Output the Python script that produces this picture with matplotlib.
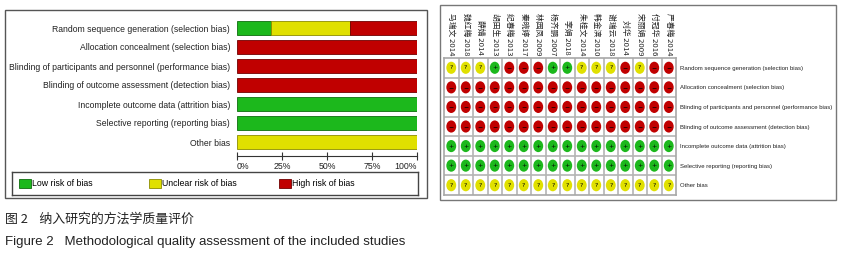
import matplotlib
matplotlib.use("Agg")
import matplotlib.pyplot as plt
from matplotlib import font_manager
from matplotlib.font_manager import FontProperties
from matplotlib.legend import Legend
from matplotlib.patches import Ellipse, Patch, Rectangle

# ---- data -------------------------------------------------------------
domains = [
    "Random sequence generation (selection bias)",
    "Allocation concealment (selection bias)",
    "Blinding of participants and personnel (performance bias)",
    "Blinding of outcome assessment (detection bias)",
    "Incomplete outcome data (attrition bias)",
    "Selective reporting (reporting bias)",
    "Other bias",
]
studies = [
    "马瑞文 2014", "魏红梅 2018", "薛婧 2014", "胡田生 2013",
    "纪春梅 2013", "秦晓婷 2017", "林园凤 2009", "杨齐鹏 2007",
    "李娟 2018", "朱桂文 2014", "韩金滨 2010", "谢瑞云 2018",
    "刘华 2014", "宋丽娟 2009", "付冠华 2016", "严春梅 2014",
]
# judgements per domain: L = low, U = unclear, H = high
judgements = [
    "UUULHHHLLUUUHUHH",
    "HHHHHHHHHHHHHHHH",
    "HHHHHHHHHHHHHHHH",
    "HHHHHHHHHHHHHHHH",
    "LLLLLLLLLLLLLLLL",
    "LLLLLLLLLLLLLLLL",
    "UUUUUUUUUUUUUUUU",
]
levels = ["L", "U", "H"]
level_labels = ["Low risk of bias", "Unclear risk of bias", "High risk of bias"]
tick_vals = [0, 0.25, 0.5, 0.75, 1.0]
tick_labels = ["0%", "25%", "50%", "75%", "100%"]

# ---- style ------------------------------------------------------------
COLORS = {"L": "#1CB81C", "U": "#E0E000", "H": "#C00000"}
EDGES = {"L": "#0E6E0E", "U": "#8C8C00", "H": "#700000"}
SYMBOLS = {"L": "+", "U": "?", "H": "−"}

SANS = "Liberation Sans"
CJK = ["Noto Sans CJK SC", "DejaVu Sans"]


def narrow_font(size):
    """Use Liberation Sans Narrow if installed, else shrink the regular face."""
    for f in font_manager.fontManager.ttflist:
        if f.name == "Liberation Sans Narrow" and f.weight in (400, "normal") \
                and f.style == "normal":
            return FontProperties(fname=f.fname, size=size * 0.95)
    return FontProperties(family=SANS, size=size * 0.79)


W, H = 842, 257
fig = plt.figure(figsize=(W / 100, H / 100), dpi=100)


def fx(x):
    return x / W


def fy(y):
    return 1 - y / H


def box(x0, y0, x1, y1, **kw):
    return fig.add_axes([fx(x0), fy(y1), (x1 - x0) / W, (y1 - y0) / H], **kw)


def frame(x0, y0, x1, y1, color):
    fig.add_artist(Rectangle((fx(x0), fy(y1)), (x1 - x0) / W, (y1 - y0) / H,
                             transform=fig.transFigure, fill=False,
                             ec=color, lw=1.0))


# ---- left panel: summary bars -------------------------------------------
frame(5, 10, 427, 198, "#555555")

ax1 = box(237, 18.5, 417, 151.5)
for s in ["top", "right", "left"]:
    ax1.spines[s].set_visible(False)
ax1.spines["bottom"].set_position(("outward", 3))
ax1.spines["bottom"].set_color("#333333")
ax1.patch.set_alpha(0)

n = len(studies)
for i, row in enumerate(judgements):
    left = 0.0
    for lv in levels:
        frac = row.count(lv) / n
        if frac > 0:
            ax1.barh(i, frac, left=left, height=0.76, color=COLORS[lv],
                     edgecolor=EDGES[lv], linewidth=0.6)
        left += frac
ax1.set_xlim(0, 1)
ax1.set_ylim(len(domains) - 0.5, -0.5)
ax1.set_yticks(range(len(domains)))
ax1.set_yticklabels(domains, fontsize=6.2, family=SANS, color="#222222")
ax1.tick_params(axis="y", length=0, pad=5)
ax1.set_xticks(tick_vals)
xlabels = ax1.set_xticklabels(tick_labels, fontsize=6.3, family=SANS, color="#222222")
xlabels[0].set_horizontalalignment("left")
xlabels[-1].set_horizontalalignment("right")
ax1.tick_params(axis="x", direction="inout", length=6, width=0.8, pad=1.5, color="#333333")

# legend box, one entry per slot
axl = box(12, 172, 418, 195)
axl.set_xticks([])
axl.set_yticks([])
for s in axl.spines.values():
    s.set_color("#444444")
    s.set_linewidth(1.0)
slots = [7, 137, 267]
for lv, lab, x in zip(levels, level_labels, slots):
    handle = Patch(facecolor=COLORS[lv], edgecolor=EDGES[lv], linewidth=0.6)
    leg = Legend(axl, [handle], [lab], loc="center left",
                 bbox_to_anchor=(x / 406, 0.5), frameon=False,
                 prop={"family": SANS, "size": 6.3}, handlelength=1.35,
                 handleheight=1.35, handletextpad=0.15, borderaxespad=0,
                 borderpad=0)
    axl.add_artist(leg)

# ---- right panel: risk of bias grid ---------------------------------------
frame(440, 5, 836, 200, "#777777")

ax2 = box(444, 58, 676, 195)
ax2.set_xlim(-0.5, n - 0.5)
ax2.set_ylim(len(domains) - 0.5, -0.5)
for i, row in enumerate(judgements):
    for j, lv in enumerate(row):
        ax2.add_patch(Ellipse((j, i), width=0.68, height=0.62,
                              facecolor=COLORS[lv], edgecolor="none"))
        ax2.text(j, i, SYMBOLS[lv], ha="center", va="center",
                 fontsize=4.5, color="black", family="DejaVu Sans")
ax2.set_xticks([j - 0.5 for j in range(1, n)], minor=True)
ax2.set_yticks([i - 0.5 for i in range(1, len(domains))], minor=True)
ax2.grid(which="minor", color="#b4b4b4", linewidth=1.2)
ax2.tick_params(which="minor", length=0)
for s in ax2.spines.values():
    s.set_color("#a8a8a8")
    s.set_linewidth(1.2)

ax2.xaxis.tick_top()
ax2.set_xticks(range(n))
ax2.set_xticklabels(studies, rotation=-90, fontsize=5.6, family=CJK, color="#222222")
ax2.tick_params(axis="x", length=0, pad=2)

ax2.yaxis.tick_right()
ax2.set_yticks(range(len(domains)))
ax2.set_yticklabels(domains, fontproperties=narrow_font(5.5), color="#222222")
ax2.tick_params(axis="y", length=0, pad=3)

# ---- caption -----------------------------------------------------------
fig.text(fx(5), fy(219), "图 2    纳入研究的方法学质量评价", family=CJK,
         fontsize=9.3, va="center", ha="left", color="#222222")
fig.text(fx(5), fy(242), "Figure 2   Methodological quality assessment of the included studies",
         family=SANS, fontsize=9.5, va="center", ha="left", color="#222222")

fig.savefig("out.png", dpi=100)
